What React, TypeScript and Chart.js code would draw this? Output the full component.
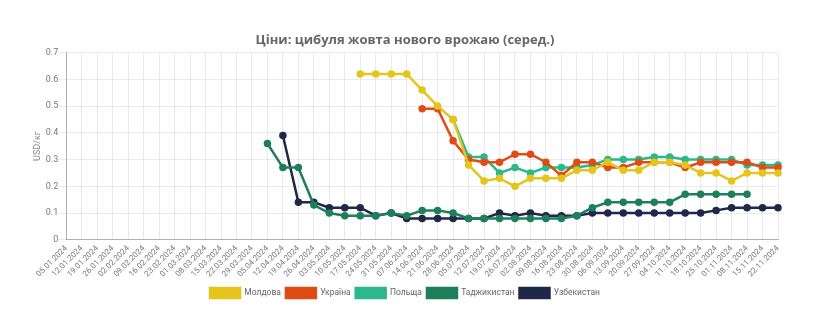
import React, { useEffect, useRef } from "react";
import { Chart, registerables } from "chart.js";

Chart.register(...registerables);

const labels = [
  "05.01.2024", "12.01.2024", "19.01.2024", "26.01.2024", "02.02.2024", "09.02.2024", "16.02.2024", "23.02.2024",
  "01.03.2024", "08.03.2024", "15.03.2024", "22.03.2024", "29.03.2024", "05.04.2024", "12.04.2024", "19.04.2024",
  "26.04.2024", "03.05.2024", "10.05.2024", "17.05.2024", "24.05.2024", "31.05.2024", "07.06.2024", "14.06.2024",
  "21.06.2024", "28.06.2024", "05.07.2024", "12.07.2024", "19.07.2024", "26.07.2024", "02.08.2024", "09.08.2024",
  "16.08.2024", "23.08.2024", "30.08.2024", "06.09.2024", "13.09.2024", "20.09.2024", "27.09.2024", "04.10.2024",
  "11.10.2024", "18.10.2024", "25.10.2024", "01.11.2024", "08.11.2024", "15.11.2024", "22.11.2024",
];

const N = null;

const moldova = [
  N, N, N, N, N, N, N, N, N, N, N, N, N, N, N, N, N, N, N,
  0.62, 0.62, 0.62, 0.62, 0.56, 0.5, 0.45, 0.28, 0.22, 0.23, 0.2, 0.23, 0.23, 0.23, 0.26,
  0.26, 0.29, 0.26, 0.26, 0.29, 0.29, 0.28, 0.25, 0.25, 0.22, 0.25, 0.25, 0.25,
];

const ukraine = [
  N, N, N, N, N, N, N, N, N, N, N, N, N, N, N, N, N, N, N, N, N, N, N,
  0.49, 0.49, 0.37, 0.3, 0.29, 0.29, 0.32, 0.32, 0.29, 0.24, 0.29, 0.29, 0.27, 0.27,
  0.29, 0.29, 0.29, 0.27, 0.29, 0.29, 0.29, 0.29, 0.27, 0.27,
];

const poland = [
  N, N, N, N, N, N, N, N, N, N, N, N, N, N, N, N, N, N, N, N, N, N, N, N, N,
  0.45, 0.31, 0.31, 0.25, 0.27, 0.25, 0.27, 0.27, 0.27, 0.28, 0.3, 0.3, 0.3, 0.31,
  0.31, 0.3, 0.3, 0.3, 0.3, 0.28, 0.28, 0.28,
];

const tajikistan = [
  N, N, N, N, N, N, N, N, N, N, N, N, N,
  0.36, 0.27, 0.27, 0.13, 0.1, 0.09, 0.09, 0.09, 0.1, 0.09, 0.11, 0.11, 0.1, 0.08,
  0.08, 0.08, 0.08, 0.08, 0.08, 0.08, 0.09, 0.12, 0.14, 0.14, 0.14, 0.14, 0.14,
  0.17, 0.17, 0.17, 0.17, 0.17, N, N,
];

const uzbekistan = [
  N, N, N, N, N, N, N, N, N, N, N, N, N, N,
  0.39, 0.14, 0.14, 0.12, 0.12, 0.12, 0.09, 0.1, 0.08, 0.08, 0.08, 0.08, 0.08, 0.08,
  0.1, 0.09, 0.1, 0.09, 0.09, 0.09, 0.1, 0.1, 0.1, 0.1, 0.1, 0.1, 0.1, 0.1,
  0.11, 0.12, 0.12, 0.12, 0.12,
];

const seriesNames = ["Молдова", "Україна", "Польща", "Таджикистан", "Узбекистан"];
const seriesColors = ["#e5c51c", "#e04b16", "#2bb98b", "#1e7f5c", "#1f2848"];

export default function App() {
  const ref = useRef<HTMLCanvasElement | null>(null);

  useEffect(() => {
    if (!ref.current) return;
    const values = [moldova, ukraine, poland, tajikistan, uzbekistan];
    const chart = new Chart(ref.current, {
      type: "line",
      data: {
        labels,
        datasets: values.map((d, i) => ({
          label: seriesNames[i],
          data: d,
          borderColor: seriesColors[i],
          backgroundColor: seriesColors[i],
          pointBackgroundColor: seriesColors[i],
          pointBorderColor: seriesColors[i],
          borderWidth: 2.5,
          pointRadius: 2.5,
          tension: 0,
          spanGaps: false,
        })),
      },
      options: {
        animation: false,
        responsive: true,
        maintainAspectRatio: false,
        layout: { padding: { top: 14, right: 28, bottom: 0, left: 24 } },
        plugins: {
          title: {
            display: true,
            text: "Ціни: цибуля жовта нового врожаю (серед.)",
            color: "#666",
            font: { family: "Open Sans", size: 13, weight: "bold" },
            padding: { top: 10, bottom: 5 },
          },
          legend: {
            position: "bottom",
            labels: {
              boxWidth: 30,
              boxHeight: 10,
              color: "#666",
              font: { family: "Roboto", size: 8.5 },
              padding: 5,
            },
          },
          tooltip: { enabled: false },
        },
        scales: {
          x: {
            grid: { color: "rgba(0,0,0,0.08)", drawTicks: false },
            border: { color: "rgba(0,0,0,0.25)" },
            ticks: {
              autoSkip: false,
              minRotation: 45,
              maxRotation: 45,
              padding: 4,
              color: "#777",
              font: { family: "Roboto", size: 8 },
            },
          },
          y: {
            min: 0,
            max: 0.7,
            grid: { color: "rgba(0,0,0,0.08)" },
            border: { color: "rgba(0,0,0,0.25)" },
            title: {
              display: true,
              text: "USD/кг",
              color: "#888",
              font: { family: "Roboto", size: 9 },
              padding: { top: 0, bottom: 3 },
            },
            ticks: {
              stepSize: 0.1,
              padding: 0,
              color: "#777",
              font: { family: "Roboto", size: 9 },
            },
          },
        },
      },
    });
    return () => chart.destroy();
  }, []);

  return (
    <div style={{ width: 798, height: 300, position: "relative" }}>
      <canvas ref={ref} />
    </div>
  );
}
